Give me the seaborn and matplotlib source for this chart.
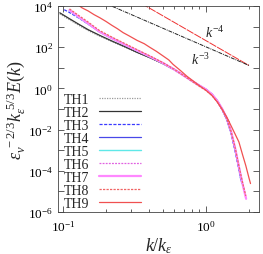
import matplotlib
matplotlib.use("Agg")
import matplotlib.pyplot as plt
import matplotlib.ticker as mticker
import numpy as np
import seaborn as sns

# spectra (k/k_eps, log10 of compensated E)
k_th1 = [0.095, 0.11, 0.13, 0.15, 0.18, 0.22, 0.27, 0.33, 0.41, 0.5, 0.6, 0.7, 0.8, 0.9, 1.0, 1.1, 1.2, 1.3, 1.4, 1.46]
e_th1 = [3.62, 3.35, 3.05, 2.81, 2.54, 2.27, 2.00, 1.73, 1.46, 1.19, 0.90, 0.61, 0.36, 0.14, -0.05, -0.28, -0.60, -1.00, -1.45, -1.67]
k_th2 = [0.095, 0.11, 0.13, 0.15, 0.18, 0.22, 0.27, 0.33, 0.41, 0.5, 0.6, 0.7, 0.8, 0.9, 1.0, 1.1, 1.2, 1.3, 1.4, 1.46]
e_th2 = [3.67, 3.40, 3.10, 2.85, 2.58, 2.30, 2.03, 1.75, 1.48, 1.20, 0.91, 0.62, 0.36, 0.14, -0.05, -0.28, -0.60, -1.00, -1.45, -1.67]
k_th3 = [0.102, 0.11, 0.13, 0.15, 0.18, 0.22, 0.27, 0.33, 0.41, 0.5, 0.6, 0.7, 0.8, 0.9, 1.0, 1.1, 1.2, 1.3, 1.4, 1.5, 1.6, 1.7, 1.76]
e_th3 = [3.82, 3.70, 3.40, 3.12, 2.76, 2.44, 2.13, 1.84, 1.53, 1.23, 0.92, 0.62, 0.36, 0.14, -0.05, -0.29, -0.62, -1.04, -1.52, -2.20, -3.05, -3.95, -4.50]
k_th4 = [0.111, 0.13, 0.15, 0.18, 0.22, 0.27, 0.33, 0.41, 0.5, 0.6, 0.7, 0.8, 0.9, 1.0, 1.1, 1.2, 1.3, 1.4, 1.5, 1.6, 1.7, 1.78]
e_th4 = [3.80, 3.43, 3.14, 2.75, 2.43, 2.12, 1.83, 1.52, 1.22, 0.92, 0.62, 0.36, 0.14, -0.05, -0.29, -0.62, -1.04, -1.52, -2.18, -3.00, -3.92, -4.60]
k_th5 = [0.111, 0.13, 0.15, 0.18, 0.22, 0.27, 0.33, 0.41, 0.5, 0.6, 0.7, 0.8, 0.9, 1.0, 1.1, 1.2, 1.3, 1.4, 1.5, 1.6, 1.7, 1.8, 1.85]
e_th5 = [3.78, 3.42, 3.13, 2.74, 2.42, 2.12, 1.83, 1.52, 1.22, 0.92, 0.62, 0.36, 0.14, -0.05, -0.28, -0.60, -1.00, -1.46, -2.12, -2.92, -3.82, -4.62, -4.95]
k_th6 = [0.111, 0.13, 0.15, 0.18, 0.22, 0.27, 0.33, 0.41, 0.5, 0.6, 0.7, 0.8, 0.9, 1.0, 1.1, 1.2, 1.3, 1.4, 1.5, 1.6, 1.7, 1.8, 1.9]
e_th6 = [3.82, 3.46, 3.16, 2.76, 2.44, 2.13, 1.84, 1.53, 1.23, 0.92, 0.62, 0.36, 0.14, -0.05, -0.28, -0.60, -1.00, -1.45, -2.10, -2.90, -3.80, -4.60, -5.30]
k_th7 = [0.111, 0.13, 0.15, 0.18, 0.22, 0.27, 0.33, 0.41, 0.5, 0.6, 0.7, 0.8, 0.9, 1.0, 1.1, 1.2, 1.3, 1.4, 1.5, 1.6, 1.7, 1.8, 1.91]
e_th7 = [3.80, 3.45, 3.15, 2.75, 2.43, 2.13, 1.84, 1.53, 1.23, 0.92, 0.62, 0.36, 0.14, -0.05, -0.28, -0.60, -1.00, -1.45, -2.10, -2.90, -3.80, -4.62, -5.36]
k_th8 = [0.111, 0.13, 0.15, 0.18, 0.22, 0.27, 0.33, 0.41, 0.5, 0.6, 0.7, 0.8, 0.9, 1.0, 1.1, 1.2, 1.3, 1.4, 1.5, 1.6, 1.7, 1.8, 1.9]
e_th8 = [3.86, 3.52, 3.22, 2.81, 2.49, 2.18, 1.88, 1.56, 1.25, 0.93, 0.62, 0.34, 0.10, -0.10, -0.34, -0.66, -1.04, -1.48, -2.10, -2.88, -3.76, -4.55, -5.22]
k_th9 = [0.125, 0.136, 0.15, 0.165, 0.181, 0.2, 0.22, 0.24, 0.263, 0.29, 0.33, 0.37, 0.406, 0.45, 0.5, 0.55, 0.588, 0.66, 0.736, 0.8, 0.9, 1.0, 1.1, 1.2, 1.3, 1.4, 1.5, 1.6, 1.7, 1.8, 1.9, 2.0, 2.05]
e_th9 = [4.10, 3.91, 3.76, 3.58, 3.43, 3.25, 3.06, 2.90, 2.71, 2.55, 2.33, 2.17, 1.99, 1.80, 1.58, 1.38, 1.17, 0.88, 0.59, 0.40, 0.13, -0.09, -0.34, -0.66, -1.02, -1.40, -1.82, -2.22, -2.60, -3.20, -3.75, -4.35, -4.62]

labels = ["TH1", "TH2", "TH3", "TH4", "TH5", "TH6", "TH7", "TH8", "TH9"]
k_series = [k_th1, k_th2, k_th3, k_th4, k_th5, k_th6, k_th7, k_th8, k_th9]
e_series = [e_th1, e_th2, e_th3, e_th4, e_th5, e_th6, e_th7, e_th8, e_th9]

# reference power laws k^-3 and k^-4, both pinned at k = 2
k_ref = [0.2, 2.0]
ref_pin_k = 2.0
ref_pin_e = 13.0

styles = [
    dict(color="#9a9a9a", dashes=(1.0, 1.0), lw=0.9),
    dict(color="#333333", dashes=None, lw=0.9),
    dict(color="#3a3aff", dashes=(2.5, 1.2), lw=0.9),
    dict(color="#4848e8", dashes=None, lw=0.9),
    dict(color="#5fe8e8", dashes=None, lw=1.0),
    dict(color="#e060e0", dashes=(1.5, 1.0), lw=0.9),
    dict(color="#ff88ff", dashes=None, lw=1.6),
    dict(color="#f06464", dashes=(1.8, 1.0), lw=0.9),
    dict(color="#f05050", dashes=None, lw=0.9),
]

sns.set_theme(style="ticks")
plt.rcParams["font.family"] = ["Liberation Serif", "DejaVu Serif"]
plt.rcParams["mathtext.fontset"] = "custom"
plt.rcParams["mathtext.rm"] = "Liberation Serif"
plt.rcParams["mathtext.it"] = "Liberation Serif:italic"

fig = plt.figure(figsize=(2.63, 2.55), dpi=100)
ax = fig.add_axes([58 / 263, 1 - 213 / 255, 201 / 263, 206 / 255])

for lab, ks, es, st in zip(labels, k_series, e_series, styles):
    sns.lineplot(x=ks, y=np.power(10.0, es), ax=ax, color=st["color"],
                 lw=st["lw"], label=lab, estimator=None, sort=False)
    if st["dashes"] is not None:
        ax.lines[-1].set_dashes(st["dashes"])

kr = np.array(k_ref)
ax.plot(kr, ref_pin_e * (kr / ref_pin_k) ** -4, color="#ee3030", lw=0.7,
        dashes=(8, 1), label="_k4")
ax.plot(kr, ref_pin_e * (kr / ref_pin_k) ** -3, color="#222222", lw=0.7,
        dashes=(4, 1, 1, 1), label="_k3")
ax.text(1.16, 10 ** 2.75, r"$k^{-4}$", fontsize=10, ha="center", va="center")
ax.text(0.91, 10 ** 1.41, r"$k^{-3}$", fontsize=10, ha="center", va="center")

ax.set_xscale("log")
ax.set_yscale("log")
ax.set_xlim(0.0923, 2.35)
ax.set_ylim(1e-6, 1e4)

ax.set_yticks([10.0 ** p for p in range(-6, 5)], minor=True)
ax.set_yticks([1e-6, 1e-4, 1e-2, 1e0, 1e2, 1e4])
ax.yaxis.set_minor_formatter(mticker.NullFormatter())
ax.set_yticklabels([r"$10^{-6}$", r"$10^{-4}$", r"$10^{-2}$", r"$10^{0}$",
                    r"$10^{2}$", r"$10^{4}$"])
ax.set_xticks([0.1, 1.0])
ax.set_xticklabels([r"$10^{-1}$", r"$10^{0}$"])
ax.xaxis.set_minor_locator(mticker.LogLocator(base=10, subs=np.arange(2, 10), numticks=20))
ax.xaxis.set_minor_formatter(mticker.NullFormatter())

ax.tick_params(which="both", direction="in", top=True, right=True,
               colors="#444444", labelcolor="black", labelsize=9.5, width=0.6)
ax.tick_params(which="major", length=4)
ax.tick_params(which="minor", length=2)
ax.tick_params(axis="y", which="minor", length=4)
ax.tick_params(axis="x", pad=5)
for sp in ax.spines.values():
    sp.set_linewidth(0.6)
    sp.set_color("#444444")

ax.set_xlabel(r"$k/k_\varepsilon$", fontsize=13, labelpad=1)
ax.set_ylabel(r"$\varepsilon_\nu^{\ -2/3}k_\varepsilon^{\ 5/3}E(k)$", fontsize=13, labelpad=0)

handles, labs = ax.get_legend_handles_labels()
ax.legend(handles[:9], labs[:9], loc="upper left", bbox_to_anchor=(0.03, 0.58),
          frameon=False, markerfirst=False, fontsize=10, handlelength=3.0,
          handletextpad=0.7, labelspacing=0.0, borderpad=0, borderaxespad=0)

fig.savefig("out.png", dpi=100, facecolor="white")
